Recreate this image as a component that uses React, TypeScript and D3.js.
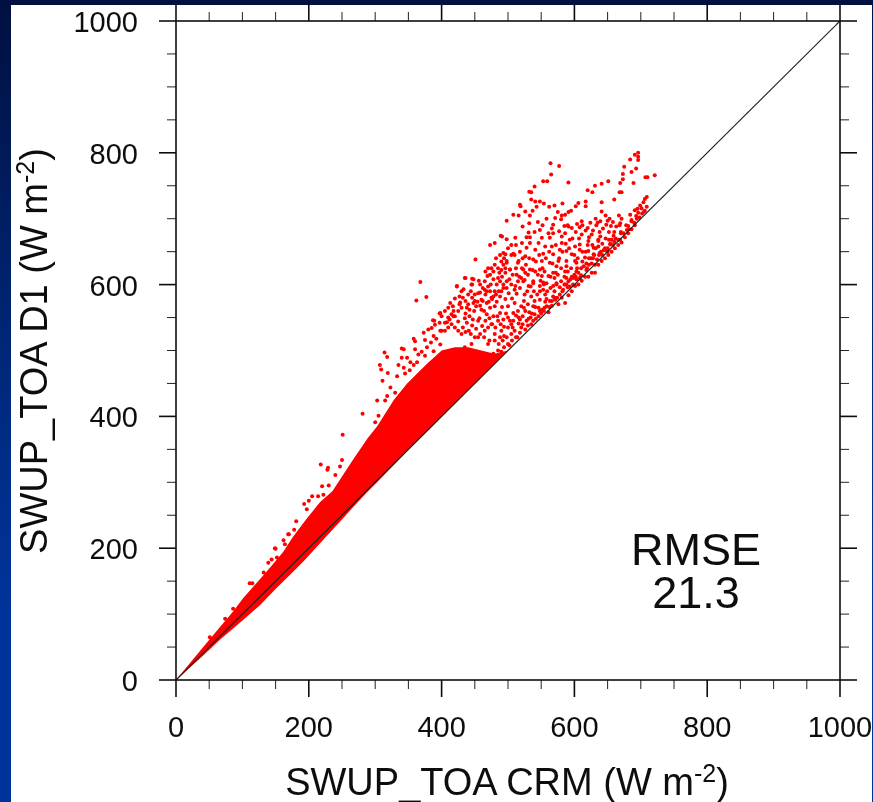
import * as d3 from 'd3'

const width = 873
const height = 802

const majorTicks = [0, 200, 400, 600, 800, 1000]
const minorTicks = [50, 100, 150, 250, 300, 350, 450, 500, 550, 650, 700, 750, 850, 900, 950]

// dense core of the cloud, where single points can't be told apart
const coreUpper: [number, number][] = [
  [0, 0], [41, 50], [66, 80], [86, 104], [101, 124], [116, 141], [142, 171], [161, 194], [176, 217],
  [197, 245], [217, 270], [236, 287], [252, 312], [267, 335], [288, 366], [303, 385], [328, 425],
  [348, 450], [378, 480], [400, 500], [420, 505], [440, 505], [460, 500], [480, 495], [500, 500],
]
const coreLower: [number, number][] = [
  [0, 0], [41, 37], [66, 61], [86, 78], [101, 91], [126, 113], [150, 138], [191, 179], [232, 224],
  [282, 279], [350, 349], [500, 500],
]

// sparse points above 560 W m-2
const upperPoints: [number, number][] = [
  [696, 800], [691, 797], [696, 794], [684, 790], [696, 789], [675, 779], [564, 784], [577, 780], [693, 776],
  [686, 771], [673, 768], [565, 767], [673, 760], [553, 757], [559, 757], [591, 755], [651, 757], [641, 753],
  [631, 750], [669, 754], [689, 754], [707, 763], [721, 766], [710, 763], [540, 749], [620, 743], [627, 740],
  [532, 741], [535, 740], [668, 740], [671, 740], [660, 729], [641, 725], [535, 729], [541, 726], [548, 726],
  [554, 723], [582, 723], [606, 724], [617, 726], [518, 721], [519, 719], [617, 719], [602, 719], [562, 718],
  [543, 718], [526, 711], [537, 712], [595, 712], [591, 710], [641, 711], [709, 733], [706, 730], [704, 725],
  [699, 720], [695, 715], [691, 713], [709, 718], [701, 716], [705, 711], [696, 709], [693, 704], [684, 706],
  [671, 700], [686, 696], [508, 706], [516, 705], [533, 705], [498, 697], [581, 705], [586, 706], [580, 699],
  [571, 701], [568, 691], [566, 685], [522, 688], [532, 693], [632, 700], [639, 696], [650, 697], [611, 696],
  [604, 692], [624, 694], [635, 694], [648, 691], [655, 689], [669, 693], [681, 689], [620, 686], [608, 687],
  [596, 686], [591, 688], [585, 689], [577, 681], [548, 683], [531, 679], [533, 672], [561, 678], [568, 678],
  [586, 678], [581, 673], [593, 668], [611, 676], [626, 676], [639, 673], [659, 674], [670, 678], [679, 683],
  [656, 668], [654, 661], [669, 668], [636, 666], [621, 666], [608, 661], [601, 658], [563, 671], [551, 671],
  [491, 673], [498, 669], [511, 671], [533, 663], [521, 663], [546, 663], [556, 658], [566, 658], [581, 663],
  [528, 656], [541, 653], [553, 647], [568, 646], [578, 653], [588, 651], [596, 646], [608, 653], [621, 651],
  [629, 656], [636, 658], [649, 651], [508, 647], [496, 646], [526, 643], [538, 638], [551, 636], [563, 633],
  [576, 636], [588, 636], [601, 636], [616, 641], [629, 646], [498, 636], [516, 636], [493, 630], [503, 623],
  [521, 625], [533, 623], [548, 623], [561, 613], [573, 628], [586, 620], [603, 620], [619, 625], [496, 618],
  [513, 615], [526, 618], [541, 620], [551, 613], [568, 618], [588, 610], [608, 610], [631, 630], [498, 605],
  [523, 605], [538, 605], [553, 603], [573, 600], [591, 605], [603, 608], [511, 598], [531, 598], [548, 598],
  [493, 595], [568, 598],
]

// middle of the cloud, 360-560 W m-2 on the D1 axis
const middlePoints: [number, number][] = [
  [368, 604], [377, 581], [362, 576], [451, 638], [473, 660], [480, 663], [489, 674], [435, 610], [446, 609],
  [456, 606], [423, 597], [445, 600], [430, 590], [427, 582], [432, 580], [420, 579], [417, 567], [427, 570],
  [397, 556], [400, 552], [387, 546], [390, 539], [397, 542], [405, 542], [415, 555], [420, 552], [412, 547],
  [425, 544], [435, 549], [442, 562], [450, 585], [455, 587], [460, 577], [452, 567], [465, 605], [469, 613],
  [475, 625], [473, 615], [485, 625], [487, 618], [488, 645], [493, 648], [490, 635], [470, 597], [465, 592],
  [473, 590], [480, 590], [485, 610], [488, 605], [498, 633], [505, 645], [510, 645], [515, 633], [503, 623],
  [493, 600], [498, 595], [510, 592], [478, 582], [488, 582], [468, 572], [460, 562], [473, 565], [480, 567],
  [488, 557], [500, 567], [510, 572], [447, 547], [457, 549], [468, 555], [478, 552], [493, 547], [508, 557],
  [520, 567], [525, 607], [523, 623], [538, 602], [518, 547], [538, 567], [548, 577], [558, 567], [568, 582],
  [553, 592], [535, 582], [583, 592], [593, 597], [598, 610], [525, 585], [558, 602], [573, 602], [588, 628],
  [603, 633], [423, 598], [436, 610], [446, 600], [433, 593], [428, 573], [418, 552],
  [438, 565], [448, 572], [458, 588], [466, 620], [448, 608], [452, 470], [460, 480], [470, 478],
  [478, 495], [485, 500], [492, 515], [500, 510], [505, 525], [512, 520], [520, 535], [528, 545], [535, 540],
  [540, 555], [548, 560], [555, 565], [563, 575], [570, 580], [578, 585], [585, 600], [600, 615], [610, 625],
  [618, 632], [625, 640], [640, 650], [650, 655], [660, 665], [470, 510], [480, 525], [490, 530], [505, 540],
  [455, 520], [465, 530], [445, 510], [435, 505], [475, 540], [485, 545], [500, 550], [515, 560], [530, 570],
  [432, 535], [438, 542], [441, 530], [446, 538], [452, 533], [455, 545], [461, 537], [466, 545], [470, 535],
  [472, 549], [476, 540], [481, 535], [484, 552], [489, 540], [494, 536], [497, 556], [503, 545], [507, 535],
  [512, 553], [516, 541], [522, 552], [526, 560], [531, 548], [536, 556], [541, 566], [546, 552], [551, 562],
  [556, 574], [561, 558], [566, 568], [571, 577], [576, 570], [581, 580], [586, 572], [591, 584], [596, 590],
  [601, 598], [606, 600], [611, 606], [616, 612], [621, 612], [626, 618], [631, 618], [636, 630], [641, 636],
  [646, 640], [651, 645], [656, 650], [661, 655], [666, 660], [671, 664], [676, 672], [681, 678], [686, 684],
  [691, 690], [436, 556], [442, 552], [449, 560], [454, 574], [458, 568], [464, 560], [471, 574], [476, 578],
  [483, 574], [486, 590], [491, 566], [496, 578], [501, 587], [506, 579], [513, 586], [518, 595], [524, 575],
  [529, 590], [534, 597], [539, 590], [544, 585], [549, 606], [554, 600], [559, 590], [564, 612], [570, 610],
  [575, 615], [580, 605], [585, 612], [590, 620], [595, 625], [600, 645], [605, 640], [612, 635], [617, 650],
  [622, 640], [627, 660], [632, 655], [637, 645], [642, 662], [647, 670], [652, 680], [478, 608], [483, 600],
  [491, 612], [496, 625], [502, 608], [507, 615], [512, 625], [517, 612], [522, 640], [527, 630], [532, 640],
  [537, 622], [542, 635], [547, 645], [552, 625], [557, 640], [562, 650], [567, 632], [572, 660], [577, 640],
  [582, 650], [587, 662], [592, 655], [597, 670], [602, 680], [607, 670], [612, 690], [617, 682], [622, 672],
  [628, 682], [633, 690], [638, 680], [643, 685], [647, 705], [653, 700], [658, 695], [663, 688], [667, 705],
  [405, 560], [410, 565], [413, 572], [425, 560], [430, 565], [436, 575], [440, 585], [444, 590], [450, 575],
  [458, 600], [462, 595], [466, 585], [474, 600], [478, 620], [482, 640], [494, 640], [500, 655], [505, 660],
  [512, 660], [518, 650], [528, 672], [540, 680], [545, 695], [552, 690], [558, 700], [570, 720], [575, 710],
  [590, 690],
]

// the band hugging the 1:1 line past the core, and the rough top of the core
const nearLinePoints: [number, number][] = [
  [482, 492], [486, 510], [490, 498], [494, 505], [498, 520], [502, 508], [506, 515], [510, 530], [514, 520],
  [518, 527], [522, 540], [526, 532], [530, 538], [534, 550], [538, 545], [542, 548], [546, 565], [550, 556],
  [554, 560], [558, 578], [562, 566], [566, 575], [570, 590], [574, 580], [578, 596], [582, 590], [586, 600],
  [590, 596], [594, 608], [598, 600], [602, 612], [606, 618], [610, 614], [614, 628], [618, 622], [622, 630],
  [626, 632], [630, 645], [634, 638], [638, 648], [642, 645], [646, 655], [650, 650], [654, 662], [658, 660],
  [662, 670], [666, 668], [670, 680], [674, 678], [678, 690], [682, 684], [686, 698], [690, 694], [694, 700],
  [698, 702], [702, 708], [706, 712], [500, 535], [508, 545], [516, 550], [524, 565], [532, 558], [540, 575],
  [548, 590], [556, 585], [564, 595], [572, 618], [580, 625], [588, 600], [596, 612], [604, 625], [612, 650],
  [620, 660], [628, 640], [636, 668], [644, 652], [652, 668], [660, 680], [668, 690], [400, 530], [410, 535],
  [415, 540], [420, 535], [425, 530], [430, 525], [436, 528], [444, 525], [450, 520], [458, 525], [464, 520],
  [472, 515], [480, 515], [488, 520], [494, 522], [378, 505], [384, 512], [392, 518], [370, 498], [358, 478],
  [352, 470], [345, 465], [410, 550], [418, 560], [440, 570], [446, 580], [462, 575], [468, 590], [475, 580],
  [482, 585], [490, 590], [505, 600], [515, 605], [530, 615], [545, 615], [555, 620], [520, 610], [470, 625],
  [480, 630], [490, 622],
]

// stray points along the top edge of the core
const edgePoints: [number, number][] = [
  [281, 404], [251, 372], [218, 327], [250, 334], [247, 324], [229, 322], [314, 497], [318, 490], [307, 478],
  [309, 471], [319, 466], [311, 454], [340, 503], [343, 502], [358, 518], [360, 514], [373, 527], [380, 532],
  [385, 534], [389, 545], [398, 557], [408, 543], [398, 530], [405, 530], [388, 522], [375, 516], [365, 494],
  [360, 502], [348, 489], [340, 489], [335, 478], [343, 474], [353, 482], [363, 482], [375, 492], [388, 499],
  [398, 509], [333, 461], [323, 444], [330, 436], [303, 424], [315, 424], [318, 431], [305, 401], [300, 391],
  [228, 319], [240, 311], [220, 294], [230, 295], [205, 279], [200, 272], [193, 267], [197, 259], [181, 241],
  [178, 228], [170, 221], [162, 212], [150, 199], [144, 183], [214, 279], [222, 281], [213, 259], [149, 200],
  [111, 147], [115, 147], [86, 108], [74, 93], [51, 65], [139, 178], [152, 186], [164, 206], [169, 221], [132, 163],
]

const allPoints = [...upperPoints, ...middlePoints, ...nearLinePoints, ...edgePoints]

const xScale = d3.scaleLinear().domain([0, 1000]).range([176, 840])
const yScale = d3.scaleLinear().domain([0, 1000]).range([680, 21])

const majorLen = 17
const minorLen = 9
const font = '"Liberation Sans", Arial, sans-serif'

function App() {
  const upper = d3.scaleLinear().domain(coreUpper.map(d => d[0])).range(coreUpper.map(d => d[1]))
  const lower = d3.scaleLinear().domain(coreLower.map(d => d[0])).range(coreLower.map(d => d[1]))
  const coreX = Array.from(new Set([...coreUpper, ...coreLower].map(d => d[0]))).sort((a, b) => a - b)
  const coreArea = d3.area<number>()
    .x(d => xScale(d))
    .y0(d => yScale(lower(d)))
    .y1(d => yScale(upper(d)))

  const x0 = xScale(0)
  const x1 = xScale(1000)
  const y0 = yScale(0)
  const y1 = yScale(1000)

  return (
    <svg width={width} height={height} style={{ position: 'absolute', left: 0, top: 0, display: 'block' }}>
      <defs>
        <linearGradient id="bg" x1="0" y1="0" x2="0" y2="1">
          <stop offset="0" stopColor="#001040" />
          <stop offset="0.5" stopColor="#002a80" />
          <stop offset="0.75" stopColor="#003399" />
          <stop offset="1" stopColor="#003399" />
        </linearGradient>
        <filter id="soft" x="-2%" y="-2%" width="104%" height="104%">
          <feGaussianBlur stdDeviation="0.45" />
        </filter>
      </defs>
      <rect width={width} height={height} fill="url(#bg)" />
      <rect x={11} y={5} width={861} height={797} fill="white" />

      <g filter="url(#soft)">
        <path d={coreArea(coreX) ?? ''} fill="#ff0000" />
        {allPoints.map((d, i) => (
          <circle key={i} cx={xScale(d[0])} cy={yScale(d[1])} r={2} fill="#ff0000" />
        ))}
        <line x1={x0} y1={y0} x2={x1} y2={y1} stroke="#222" strokeWidth={1.2} />

        <g stroke="#222" strokeWidth={1}>
          {minorTicks.map(t => (
            <g key={t}>
              <line x1={xScale(t)} x2={xScale(t)} y1={y0} y2={y0 + minorLen} />
              <line x1={xScale(t)} x2={xScale(t)} y1={y1} y2={y1 - minorLen} />
              <line y1={yScale(t)} y2={yScale(t)} x1={x0} x2={x0 - minorLen} />
              <line y1={yScale(t)} y2={yScale(t)} x1={x1} x2={x1 + minorLen} />
            </g>
          ))}
        </g>
        <g stroke="#111" strokeWidth={1.6}>
          {majorTicks.map(t => (
            <g key={t}>
              <line x1={xScale(t)} x2={xScale(t)} y1={y0} y2={y0 + majorLen} />
              <line x1={xScale(t)} x2={xScale(t)} y1={y1} y2={y1 - majorLen} />
              <line y1={yScale(t)} y2={yScale(t)} x1={x0} x2={x0 - majorLen} />
              <line y1={yScale(t)} y2={yScale(t)} x1={x1} x2={x1 + majorLen} />
            </g>
          ))}
          <rect x={x0} y={y1} width={x1 - x0} height={y0 - y1} fill="none" />
        </g>

        <g fontFamily={font} fill="#111">
          {majorTicks.map(t => (
            <text key={t} x={xScale(t)} y={737} fontSize={29} textAnchor="middle">{t}</text>
          ))}
          {majorTicks.map(t => (
            <text key={t} x={138} y={yScale(t) + 11} fontSize={29} textAnchor="end">{t}</text>
          ))}
          <text x={507} y={795} fontSize={38} textAnchor="middle">
            SWUP_TOA CRM (W m<tspan fontSize={25} dy={-13}>-2</tspan><tspan dy={13}>)</tspan>
          </text>
          <text transform="translate(47,351) rotate(-90)" fontSize={38} textAnchor="middle">
            SWUP_TOA D1 (W m<tspan fontSize={25} dy={-13}>-2</tspan><tspan dy={13}>)</tspan>
          </text>
          <text fontSize={45} textAnchor="middle">
            <tspan x={696} y={565}>RMSE</tspan>
            <tspan x={696} y={608}>21.3</tspan>
          </text>
        </g>
      </g>
    </svg>
  )
}

export default App
